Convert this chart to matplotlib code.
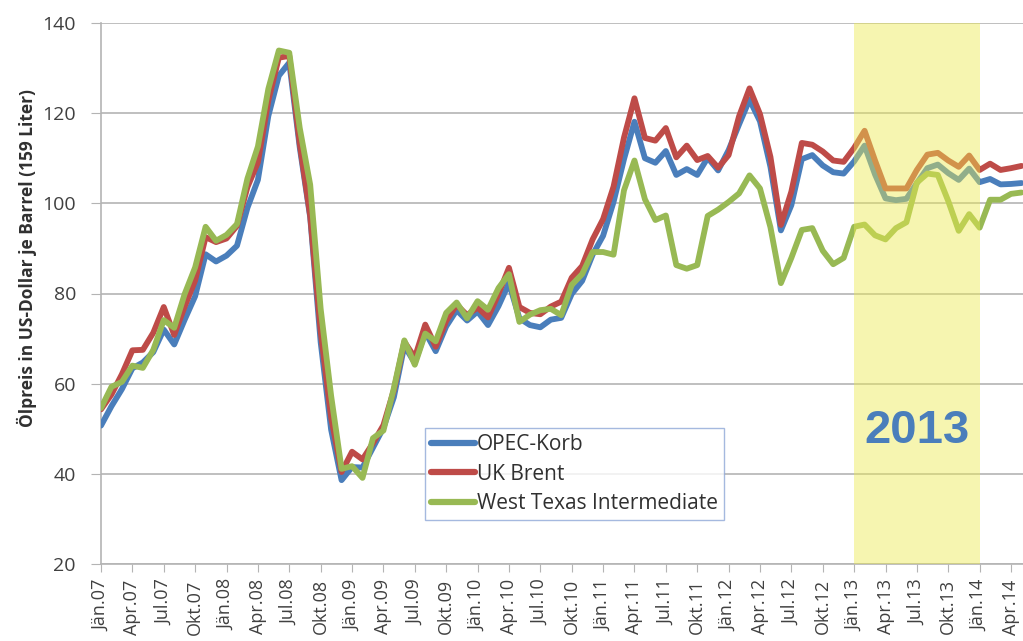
import matplotlib
matplotlib.use("Agg")
import matplotlib.pyplot as plt
import numpy as np

# ===== DATA (monthly, Jän.07 .. Mai.14) =====
opec = [50.7, 55.0, 58.8, 63.4, 64.7, 67.0, 72.0, 68.7, 74.2, 79.4, 88.7, 87.1,
        88.4, 90.6, 99.0, 105.2, 119.4, 128.3, 131.2, 112.4, 96.9, 69.2, 49.8, 38.6,
        41.5, 41.4, 45.8, 50.2, 57.0, 68.4, 64.6, 71.4, 67.2, 72.7, 76.3, 74.0,
        76.0, 73.0, 77.2, 82.3, 74.5, 73.0, 72.5, 74.2, 74.6, 79.9, 82.8, 88.6,
        92.8, 100.3, 109.8, 118.1, 110.0, 109.0, 111.6, 106.3, 107.6, 106.3, 110.1, 107.3,
        111.8, 117.5, 123.0, 118.2, 108.1, 94.0, 99.6, 109.8, 110.7, 108.4, 106.9, 106.6,
        109.3, 112.8, 106.4, 101.1, 100.7, 101.0, 104.5, 107.8, 108.6, 106.7, 105.2, 107.7,
        104.7, 105.4, 104.2, 104.3, 104.5]
brent = [54.3, 57.6, 62.1, 67.4, 67.5, 71.3, 77.0, 70.8, 77.1, 82.9, 92.5, 91.4,
         92.2, 95.0, 103.6, 109.1, 122.8, 132.3, 132.7, 113.2, 97.2, 71.6, 52.5, 40.4,
         44.9, 43.2, 46.8, 50.8, 58.6, 69.3, 65.8, 73.1, 68.2, 73.9, 77.5, 75.2,
         76.9, 74.7, 79.9, 85.7, 77.0, 75.7, 75.4, 77.1, 78.2, 83.5, 86.1, 92.0,
         96.5, 103.7, 114.6, 123.3, 114.5, 113.9, 116.7, 110.2, 112.8, 109.6, 110.5, 107.9,
         110.7, 119.3, 125.5, 119.8, 110.3, 95.2, 102.6, 113.4, 113.0, 111.5, 109.5, 109.2,
         112.3, 116.1, 109.5, 103.3, 103.3, 103.3, 107.4, 110.8, 111.2, 109.5, 108.1, 110.6,
         107.4, 108.8, 107.4, 107.8, 108.3]
wti = [54.6, 59.3, 60.4, 64.0, 63.5, 67.5, 74.1, 72.4, 79.9, 85.8, 94.8, 91.7,
       93.0, 95.4, 105.5, 112.6, 125.4, 133.9, 133.4, 116.7, 104.1, 76.6, 57.3, 41.1,
       41.7, 39.1, 47.9, 49.6, 59.0, 69.6, 64.2, 71.1, 69.4, 75.7, 78.0, 74.5,
       78.3, 76.4, 81.2, 84.3, 73.7, 75.3, 76.3, 76.6, 75.2, 81.9, 84.3, 89.2,
       89.2, 88.6, 102.9, 109.5, 100.9, 96.3, 97.3, 86.3, 85.5, 86.3, 97.2, 98.6,
       100.3, 102.2, 106.2, 103.3, 94.7, 82.3, 87.9, 94.1, 94.5, 89.5, 86.5, 87.9,
       94.8, 95.3, 92.9, 92.0, 94.5, 95.8, 104.6, 106.6, 106.3, 100.5, 93.9, 97.6,
       94.6, 100.8, 100.8, 102.1, 102.4]

series_names = ["OPEC-Korb", "UK Brent", "West Texas Intermediate"]
tick_labels = ["Jän.07", "Apr.07", "Jul.07", "Okt.07", "Jän.08", "Apr.08", "Jul.08", "Okt.08",
               "Jän.09", "Apr.09", "Jul.09", "Okt.09", "Jän.10", "Apr.10", "Jul.10", "Okt.10",
               "Jän.11", "Apr.11", "Jul.11", "Okt.11", "Jän.12", "Apr.12", "Jul.12", "Okt.12",
               "Jän.13", "Apr.13", "Jul.13", "Okt.13", "Jän.14", "Apr.14"]
highlight_start, highlight_end = 72, 84   # Jän.13 .. Jän.14
highlight_label = "2013"

# ===== PLOT =====
plt.rcParams['font.family'] = ['Open Sans', 'DejaVu Sans']
W, H = 1023, 641
fig = plt.figure(figsize=(W / 100, H / 100), dpi=100)
ax = fig.add_axes([101 / W, 77 / H, (W - 101) / W, 541 / H])

x = np.arange(len(brent))
colors = ["#4a7ebb", "#be4b48", "#98b954"]
for vals, name, c in zip([opec, brent, wti], series_names, colors):
    ax.plot(x, vals, color=c, lw=4.2, label=name, solid_joinstyle='round',
            solid_capstyle='round', zorder=3)

ax.axvspan(highlight_start, highlight_end, color="#ecea50", alpha=0.45, lw=0, zorder=4)
ax.text((highlight_start + highlight_end) / 2, 49.6, highlight_label, color="#4a7ebb",
        fontsize=34, fontweight='bold', family='Liberation Sans', ha='center', va='center', zorder=5)

ax.set_xlim(0, (W - 101) / 10.46)
ax.set_ylim(20, 140)
ax.set_yticks(range(20, 141, 20))
ax.yaxis.grid(True, color="#b4b4b4", lw=1.2)
ax.set_axisbelow(True)
ax.set_xticks(np.arange(0, 88, 3))
ax.set_xticklabels(tick_labels, rotation=90, fontsize=13, color="#404040", va='top')
ax.tick_params(axis='y', labelsize=14, colors="#b4b4b4", labelcolor="#404040", length=7, pad=11)
ax.tick_params(axis='x', colors="#b4b4b4", labelcolor="#404040", length=6, pad=5)
for s in ['top', 'right']:
    ax.spines[s].set_visible(False)
for s in ['left', 'bottom']:
    ax.spines[s].set_color("#b4b4b4")
    ax.spines[s].set_linewidth(1.2)

ax.set_ylabel("Ölpreis in US-Dollar je Barrel (159 Liter)", fontsize=12.5,
              fontweight='bold', color="#303030")
ax.yaxis.set_label_coords(-0.069, 0.565)

leg = ax.legend(loc='upper left', bbox_to_anchor=(425 / W, 1 - 428 / H),
                bbox_transform=fig.transFigure, fontsize=15, fancybox=False,
                handlelength=2.1, handletextpad=0.1, borderaxespad=0, labelspacing=0.4,
                borderpad=0.3)
leg.get_frame().set_edgecolor("#8fa8d8")
leg.get_frame().set_linewidth(1.0)
for t in leg.get_texts():
    t.set_color("#303030")
for h in leg.get_lines():
    h.set_linewidth(4.5)

fig.savefig("out.png", dpi=100)
